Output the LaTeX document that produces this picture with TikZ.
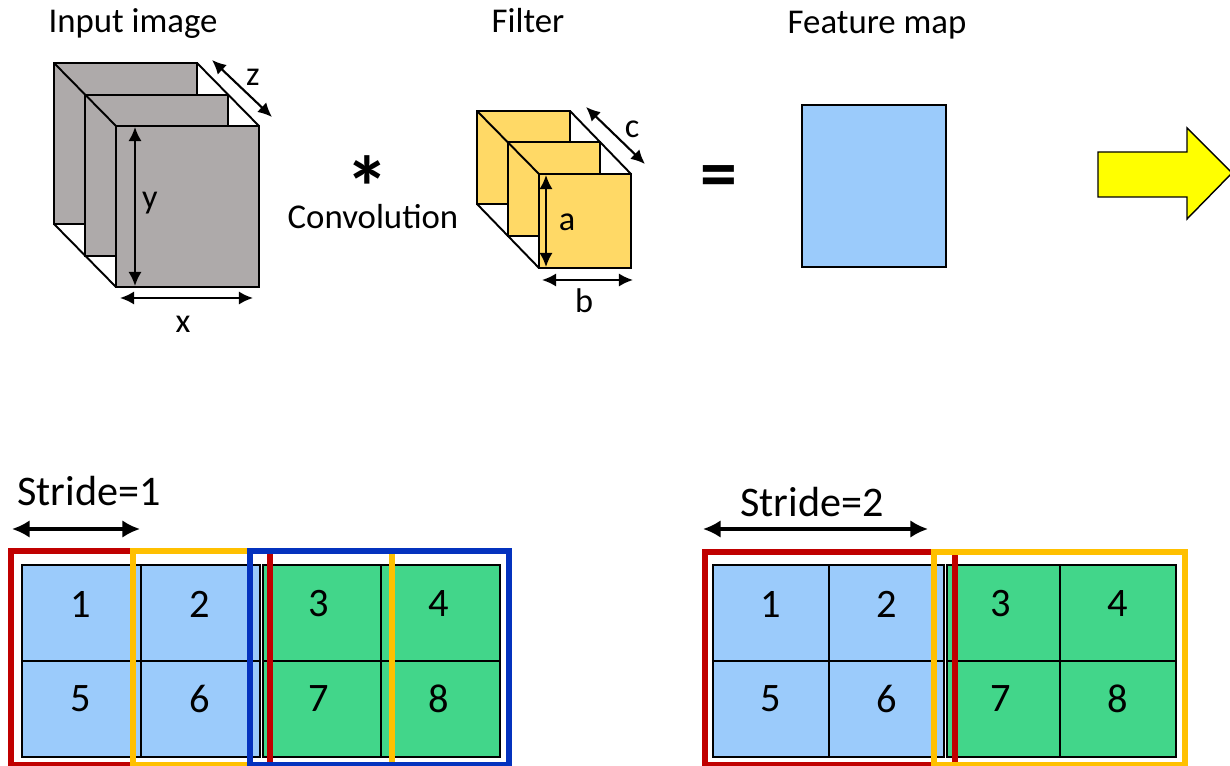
\documentclass[tikz,border=0pt]{standalone}
\usepackage{fontspec}
\setmainfont{Carlito}
\usetikzlibrary{arrows.meta}
\definecolor{panelgrey}{HTML}{AEAAAA}
\definecolor{filteryellow}{HTML}{FFD966}
\definecolor{cellblue}{HTML}{9BCBFB}
\definecolor{cellgreen}{HTML}{42D68A}
\definecolor{framered}{HTML}{C00000}
\definecolor{frameorange}{HTML}{FFC000}
\definecolor{frameblue}{HTML}{0432BE}
\definecolor{arrowyellow}{HTML}{FFFF00}
\tikzset{
  panel/.style={draw=black, line width=1.1pt},
  edge3d/.style={draw=black, line width=1.1pt},
  dimarrow/.style={{Latex[length=8pt,width=7.5pt]}-{Latex[length=8pt,width=7.5pt]}, line width=1.2pt},
  stridearrow/.style={{Latex[length=10pt,width=10pt]}-{Latex[length=10pt,width=10pt]}, line width=1.8pt},
  gridbox/.style={draw=black, line width=1.3pt},
  frame/.style={line width=3.4pt},
  lbl/.style={inner sep=0pt, font=\fontsize{19.5}{22}\selectfont},
  title/.style={inner sep=0pt, anchor=base, font=\fontsize{19.8}{22}\selectfont},
  stridelbl/.style={inner sep=0pt, anchor=base, font=\fontsize{24}{27}\selectfont},
  num/.style={inner sep=0pt, font=\fontsize{23}{26}\selectfont},
}
\begin{document}
\begin{tikzpicture}[x=0.02cm,y=-0.02cm]
\clip (0,0) rectangle (1230,766);
\fill[white] (0,0) rectangle (1230,766);

% ---------- titles ----------
\node[title] (tin) at (133,33) {Input image};
\node[title] (tfi) at (528,33) {Filter};
\node[title] (tfm) at (877,34) {Feature map};

% ---------- input image stack ----------
\filldraw[panel, fill=panelgrey] (54,63) rectangle (197,224);
\filldraw[panel, fill=panelgrey] (85,95) rectangle (228,256);
\filldraw[panel, fill=panelgrey] (116,126) rectangle (259,287);
\draw[edge3d] (54,63) -- (116,126);
\draw[edge3d] (197,63) -- (259,126);
\draw[edge3d] (54,224) -- (116,287);
\draw[dimarrow] (212,60) -- (272,117);
\draw[dimarrow] (135,127) -- (135,286);
\draw[dimarrow] (120,298) -- (253,298);
\node[lbl] (lz) at (253,77) {z};
\node[lbl] (ly) at (150,203) {y};
\node[lbl] (lx) at (183,324) {x};

% ---------- convolution sign ----------
\node[inner sep=0pt, anchor=base, font=\bfseries\fontsize{50}{52}\selectfont] (star) at (367,219) {\smash{*}};
\node[title] (conv) at (373,229) {Convolution};

% ---------- filter stack ----------
\filldraw[panel, fill=filteryellow] (477,111) rectangle (570,204);
\filldraw[panel, fill=filteryellow] (508,142) rectangle (600,236);
\filldraw[panel, fill=filteryellow] (539,174) rectangle (631,268);
\draw[edge3d] (477,111) -- (539,174);
\draw[edge3d] (570,111) -- (631,174);
\draw[edge3d] (477,204) -- (539,268);
\draw[dimarrow] (586,107) -- (645,164);
\draw[dimarrow] (546,175) -- (546,267);
\draw[dimarrow] (542,280) -- (633,280);
\node[lbl] (lc) at (632,129) {c};
\node[lbl] (la) at (567,222) {a};
\node[lbl] (lb) at (584,301) {b};

% ---------- equals ----------
\node[inner sep=0pt, font=\bfseries\fontsize{42}{44}\selectfont] (eq) at (719,182) {=};

% ---------- feature map ----------
\filldraw[draw=black, line width=1.5pt, fill=cellblue] (802,105) rectangle (946,267);

% ---------- yellow arrow ----------
\filldraw[draw=black, line width=0.8pt, fill=arrowyellow]
  (1098,152) -- (1187,152) -- (1187,128) -- (1232,173) -- (1187,219) -- (1187,197) -- (1098,197) -- cycle;

% ---------- stride = 1 ----------
\node[stridelbl] (s1) at (89,505) {Stride=1};
\draw[stridearrow] (12,529) -- (140,529);
\filldraw[gridbox, fill=cellblue] (22,565) rectangle (260,757);
\draw[gridbox] (141,565) -- (141,757) (22,661) -- (260,661);
\filldraw[gridbox, fill=cellgreen] (263,565) rectangle (500,757);
\draw[gridbox] (381,565) -- (381,757) (263,661) -- (500,661);
\node[num] (a1) at (81,604) {1};
\node[num] (a2) at (200,604) {2};
\node[num] (a3) at (319,604) {3};
\node[num] (a4) at (439,604) {4};
\node[num] (a5) at (81,699) {5};
\node[num] (a6) at (200,699) {6};
\node[num] (a7) at (319,699) {7};
\node[num] (a8) at (439,699) {8};
\draw[frame, draw=framered] (11,551) rectangle (270,765);
\draw[frame, draw=frameorange] (133,551) rectangle (392,765);
\draw[frame, draw=frameblue] (250,551) rectangle (509,765);

% ---------- stride = 2 ----------
\node[stridelbl] (s2) at (812,516) {Stride=2};
\draw[stridearrow] (703,529) -- (928,529);
\filldraw[gridbox, fill=cellblue] (713,565) rectangle (944,757);
\draw[gridbox] (829,565) -- (829,757) (713,661) -- (944,661);
\filldraw[gridbox, fill=cellgreen] (947,565) rectangle (1176,757);
\draw[gridbox] (1060,565) -- (1060,757) (947,661) -- (1176,661);
\node[num] (b1) at (771,604) {1};
\node[num] (b2) at (887,604) {2};
\node[num] (b3) at (1001,604) {3};
\node[num] (b4) at (1118,604) {4};
\node[num] (b5) at (771,699) {5};
\node[num] (b6) at (887,699) {6};
\node[num] (b7) at (1001,699) {7};
\node[num] (b8) at (1118,699) {8};
\draw[frame, draw=framered] (705,552) rectangle (955,765);
\draw[frame, draw=frameorange] (934,552) rectangle (1185,765);
\end{tikzpicture}
\end{document}
